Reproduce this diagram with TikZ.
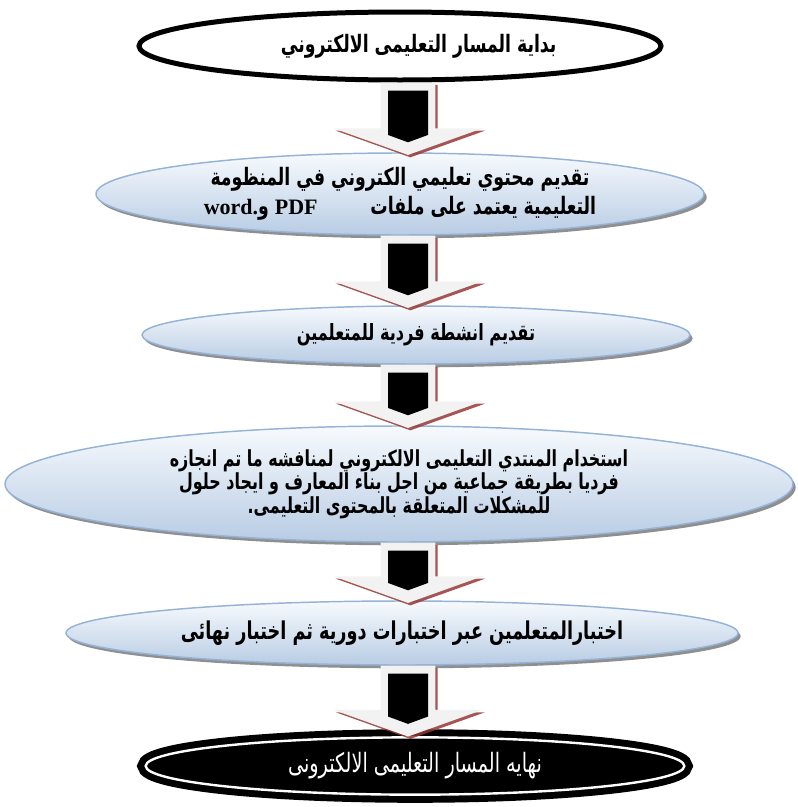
\documentclass[tikz,border=0pt]{standalone}
\usepackage{fontspec}
\setmainfont{Liberation Serif}
\newfontfamily\arabicfont[Script=Arabic]{DejaVu Sans}
\newfontfamily\arabicnarrow[Script=Arabic, FakeStretch=0.72]{DejaVu Sans}
\TeXXeTstate=1
\usetikzlibrary{shapes.geometric, shadows, calc}

\definecolor{boxtop}{RGB}{247,250,253}
\definecolor{boxbottom}{RGB}{184,204,228}
\definecolor{boxline}{RGB}{149,179,215}
\definecolor{arrowgray}{RGB}{242,242,242}
\definecolor{arrowshade}{RGB}{149,55,53}

\tikzset{
  stagebox/.style={ellipse, inner sep=0pt, top color=boxtop, bottom color=boxbottom,
    draw=boxline, line width=1.1pt, align=center,
    drop shadow={shadow xshift=2pt, shadow yshift=-2.5pt, fill=black!55, opacity=.8},
    font=\arabicnarrow\bfseries\fontsize{18}{21.5}\selectfont},
  startbox/.style={ellipse, inner sep=0pt, draw=black, fill=white, line width=3.75pt,
    font=\arabicnarrow\bfseries\fontsize{18}{20}\selectfont},
  endbox/.style={ellipse, inner sep=0pt, draw=black, fill=black, line width=5.2pt,
    double=white, double distance=1.8pt, text=white,
    font=\arabicnarrow\fontsize{20}{22}\selectfont},
  arrowbody/.style={fill=arrowgray,
    drop shadow={shadow xshift=1.8pt, shadow yshift=-1.8pt, fill=arrowshade, opacity=.85}}
}

\newcommand{\arrx}{306pt}
% block arrow from one stage to the next
\newcommand{\stagearrow}[2]{%
  \path[arrowbody] let \p1=(#1.south), \p2=(#2.north) in
    (\arrx-20.5pt,\y1) -- (\arrx+20.5pt,\y1) -- (\arrx+20.5pt,\y2+18pt)
    -- (\arrx+56pt,\y2+18pt) -- (\arrx,\y2-2pt) -- (\arrx-56pt,\y2+18pt)
    -- (\arrx-20.5pt,\y2+18pt) -- cycle;
  \fill[black] let \p1=(#1.south), \p2=(#2.north) in
    (\arrx-15pt,\y1-6pt) -- (\arrx+15pt,\y1-6pt) -- (\arrx+15pt,\y2+13pt)
    -- (\arrx,\y2+7.5pt) -- (\arrx-15pt,\y2+13pt) -- cycle;
}

\begin{document}
\begin{tikzpicture}[x=0.75pt, y=-0.75pt]
  \useasboundingbox (0,0) rectangle (797,807);

  \node[startbox, minimum width=391.5pt, minimum height=51pt] (start) at (400,46)
    {\hspace{28pt}\beginR بداية المسار التعليمى الالكتروني\endR};
  \node[stagebox, minimum width=456pt, minimum height=61.5pt] (content) at (400,194)
    {\beginR تقديم محتوي  تعليمي الكتروني في المنظومة\endR\\
     \beginR التعليمية يعتمد على ملفات\hspace{2.2em}\beginL{\rmfamily\bfseries\fontsize{16.5}{18}\selectfont PDF}\endL{} و\beginL{\rmfamily\bfseries\fontsize{16.5}{18}\selectfont word.}\endL\endR};
  \node[stagebox, minimum width=411pt, minimum height=43.5pt,
        font=\arabicnarrow\bfseries\fontsize{16.8}{18}\selectfont] (tasks) at (416,335)
    {\beginR تقديم انشطة فردية للمتعلمين\endR};
  \node[stagebox, minimum width=591pt, minimum height=87pt,
        font=\arabicnarrow\bfseries\fontsize{16.6}{17.5}\selectfont] (forum) at (399,484)
    {\beginR استخدام المنتدي التعليمى الالكتروني لمنافشه ما تم انجازه\endR\\
     \beginR فرديا بطريقة جماعية من اجل بناء المعارف و ايجاد حلول\endR\\
     \beginR للمشكلات المتعلقة بالمحتوى التعليمى.\endR};
  \node[stagebox, minimum width=504pt, minimum height=48pt,
        font=\arabicnarrow\bfseries\fontsize{18.4}{20}\selectfont] (tests) at (402,633)
    {\beginR اختبارالمتعلمين عبر اختبارات دورية ثم اختبار نهائى\endR};
  \node[endbox, minimum width=404pt, minimum height=43pt] (finish) at (415,766)
    {\beginR نهايه المسار  التعليمى الالكترونى\endR};

  \stagearrow{start}{content}
  \stagearrow{content}{tasks}
  \stagearrow{tasks}{forum}
  \stagearrow{forum}{tests}
  \stagearrow{tests}{finish}
\end{tikzpicture}
\end{document}
